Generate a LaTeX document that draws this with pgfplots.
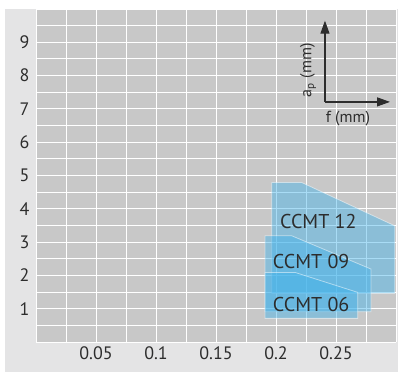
\documentclass[border=0pt]{standalone}
\usepackage{fontspec}
\setmainfont{PT Sans}
\usepackage{pgfplots}
\pgfplotsset{compat=1.18}
\usetikzlibrary{arrows.meta}
\definecolor{plotgray}{RGB}{200,200,200}
\definecolor{panelgray}{RGB}{228,228,229}
\definecolor{ccblue}{RGB}{65,178,235}
\definecolor{txt}{RGB}{45,45,45}
\begin{document}
\begin{tikzpicture}
\useasboundingbox (-36pt,-30pt) rectangle (362pt,342pt);
\fill[white] (-36pt,-30pt) rectangle (362pt,342pt);
\fill[panelgray] (-31pt,-30pt) rectangle (362pt,333pt);
\begin{axis}[
  at={(0,0)}, anchor=south west,
  scale only axis, width=360pt, height=333pt,
  xmin=0, xmax=0.3, ymin=0, ymax=10,
  axis line style={draw=none},
  axis background/.style={fill=plotgray},
  xtick={0.05,0.1,0.15,0.2,0.25},
  xticklabels={0.05,0.1,0.15,0.2,0.25},
  ytick={1,2,...,9},
  minor xtick={0,0.025,...,0.3},
  minor ytick={0,0.5,...,10},
  grid=both,
  grid style={white, line width=0.9pt},
  minor grid style={white, line width=0.9pt},
  major tick length=0pt, minor tick length=0pt,
  tick style={draw=none},
  tick label style={font=\fontsize{18}{20}\selectfont, text=txt},
  /pgf/number format/assume math mode=true,
  yticklabel style={xshift=-3pt},
  xticklabel style={yshift=-1pt},
  clip=false,
]
\addplot[fill=ccblue, fill opacity=0.45, draw=white, draw opacity=0.5, line width=0.8pt]
  coordinates {(0.1964,1.46) (0.1964,4.79) (0.2214,4.79) (0.299,3.49) (0.299,1.46)} -- cycle;
\addplot[fill=ccblue, fill opacity=0.45, draw=white, draw opacity=0.5, line width=0.8pt]
  coordinates {(0.1908,0.91) (0.1908,3.19) (0.2131,3.19) (0.2792,2.19) (0.2792,0.91)} -- cycle;
\addplot[fill=ccblue, fill opacity=0.45, draw=white, draw opacity=0.5, line width=0.8pt]
  coordinates {(0.1908,0.71) (0.1908,2.09) (0.2158,2.09) (0.2681,1.49) (0.2681,0.71)} -- cycle;
\node[anchor=west, font=\fontsize{20}{22}\selectfont, text=txt, inner sep=0pt] at (axis cs:0.2033,3.63) {CCMT 12};
\node[anchor=west, font=\fontsize{20}{22}\selectfont, text=txt, inner sep=0pt] at (axis cs:0.1973,2.42) {CCMT 09};
\node[anchor=west, font=\fontsize{20}{22}\selectfont, text=txt, inner sep=0pt] at (axis cs:0.1973,1.13) {CCMT 06};
\draw[line width=1.2pt, txt, -{Triangle[length=13pt,width=9pt]}] (axis cs:0.2408,7.21) -- (axis cs:0.2408,9.65);
\draw[line width=1.2pt, txt, -{Triangle[length=13pt,width=9pt]}] (axis cs:0.2408,7.21) -- (axis cs:0.2950,7.21);
\node[rotate=90, font=\fontsize{16}{18}\selectfont, text=txt, inner sep=0pt] at (axis cs:0.2267,8.16) {a\textsubscript{p} (mm)};
\node[font=\fontsize{16}{18}\selectfont, text=txt, inner sep=0pt] at (axis cs:0.26,6.72) {f (mm)};
\end{axis}
\end{tikzpicture}
\end{document}
